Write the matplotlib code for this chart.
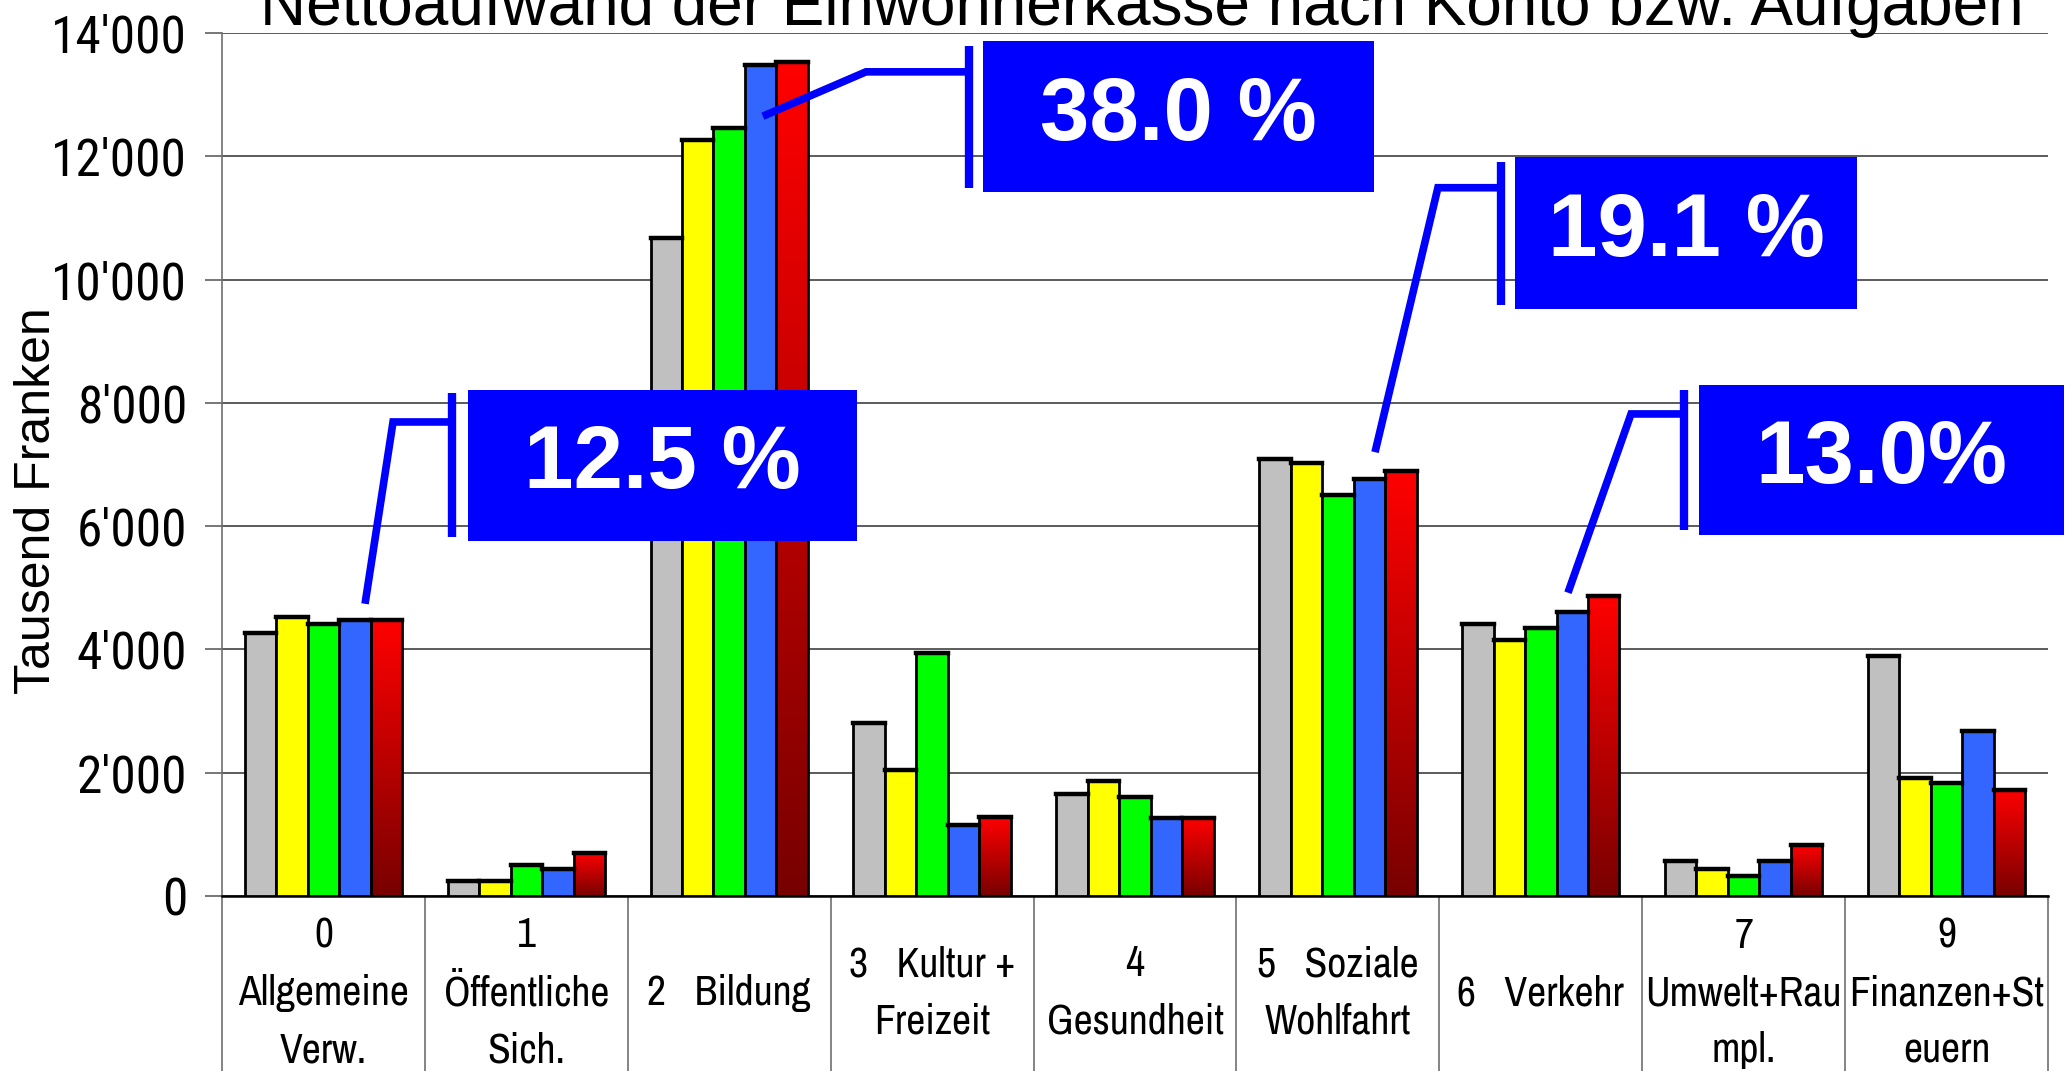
import numpy as np
import matplotlib
matplotlib.use("Agg")
import matplotlib.pyplot as plt
from matplotlib.colors import LinearSegmentedColormap
from matplotlib.patches import Rectangle
from matplotlib.ticker import FuncFormatter
import matplotlib.transforms as mtransforms

# ---- data (Tausend Franken) ----
categories = ["0\nAllgemeine\nVerw.", "1\nÖffentliche\nSich.", "2   Bildung",
              "3   Kultur +\nFreizeit", "4\nGesundheit", "5   Soziale\nWohlfahrt",
              "6   Verkehr", "7\nUmwelt+Rau\nmpl.", "9\nFinanzen+St\neuern"]
serie_1 = [4270, 250, 10670, 2810, 1660, 7090, 4410, 570, 3890]
serie_2 = [4530, 250, 12260, 2050, 1860, 7020, 4150, 440, 1910]
serie_3 = [4410, 510, 12460, 3940, 1600, 6510, 4340, 320, 1840]
serie_4 = [4470, 440, 13480, 1150, 1270, 6770, 4600, 570, 2680]
serie_5 = [4470, 700, 13530, 1280, 1270, 6900, 4860, 830, 1720]
yticks = [0, 2000, 4000, 6000, 8000, 10000, 12000, 14000]

callout_labels = ["12.5 %", "38.0 %", "19.1 %", "13.0%"]

title = "Nettoaufwand der Einwohnerkasse nach Konto bzw. Aufgaben"
ylabel = "Tausend Franken"

# ---- callout layout (data coords): box, bracket bar, leader path ----
callout_boxes = [(0.712, 2.630, 5760, 8210), (3.251, 5.178, 11420, 13870),
                 (5.873, 7.558, 9520, 11990), (6.780, 8.579, 5860, 8290)]
callout_bars = [(0.634, 5820, 8160), (3.182, 11490, 13790),
                (5.806, 9590, 11910), (6.706, 5940, 8210)]
callout_paths = [([0.634, 0.343, 0.205], [7690, 7690, 4740]),
                 ([3.182, 2.674, 2.166], [13370, 13370, 12650]),
                 ([5.806, 5.493, 5.183], [11490, 11490, 7200]),
                 ([6.706, 6.445, 6.134], [7820, 7820, 4920])]

narrow = ["Roboto Condensed", "Archivo Narrow", "Liberation Sans", "DejaVu Sans"]
narrower = ["Archivo Narrow", "PT Sans Narrow", "Roboto Condensed", "Liberation Sans"]
normal = ["Liberation Sans", "DejaVu Sans"]
BLUE = "#0000FF"

fig = plt.figure(figsize=(20.67, 10.71), dpi=100)
ax = fig.add_axes([222 / 2067, 175 / 1071, 1826 / 2067, 863 / 1071])

x = np.arange(len(categories))
w = 0.155
fills = ["#C0C0C0", "#FFFF00", "#00FF00", "#3366FF"]
series = [serie_1, serie_2, serie_3, serie_4]
all_bars = []
for j, (vals, col) in enumerate(zip(series, fills)):
    all_bars += list(ax.bar(x + (j - 2) * w, vals, w, color=col, edgecolor="black",
                            linewidth=2, zorder=3))

# red series with vertical gradient
red_cmap = LinearSegmentedColormap.from_list("rot", ["#780000", "#FF0000"])
red_bars = ax.bar(x + 2 * w, serie_5, w, facecolor="none", edgecolor="black",
                  linewidth=2, zorder=3)
all_bars += list(red_bars)
grad = np.linspace(0, 1, 256).reshape(-1, 1)
for b in red_bars:
    x0, bw, h = b.get_x(), b.get_width(), b.get_height()
    ax.imshow(grad, extent=[x0, x0 + bw, 0, h], origin="lower",
              aspect="auto", cmap=red_cmap, zorder=2.5, interpolation="bilinear")

# heavier top edge on each bar
for b in all_bars:
    x0, bw, h = b.get_x(), b.get_width(), b.get_height()
    ax.plot([x0, x0 + bw], [h, h], color="black", linewidth=3.2,
            solid_capstyle="projecting", zorder=3.5)

ax.set_xlim(-0.5, len(categories) - 0.5)
ax.set_ylim(0, 14000)
ax.set_yticks(yticks)
ax.yaxis.set_major_formatter(FuncFormatter(lambda v, p: f"{int(v):,}".replace(",", "'")))
ax.tick_params(axis="y", length=12, width=1.2, color="#606060", pad=13,
               labelsize=37)
for lab in ax.get_yticklabels():
    lab.set_fontfamily(narrow)
ax.set_xticks([])
ax.grid(axis="y", color="#404040", linewidth=1.2)
ax.set_axisbelow(True)
for s in ["top", "right"]:
    ax.spines[s].set_visible(False)
ax.spines["left"].set_color("#707070")
ax.spines["left"].set_linewidth(1.2)
ax.spines["bottom"].set_color("black")
ax.spines["bottom"].set_linewidth(1.8)

# category table below the axis
trans = mtransforms.blended_transform_factory(ax.transData, ax.transAxes)
for k in range(len(categories) + 1):
    ax.plot([k - 0.5, k - 0.5], [0, -0.25], transform=trans, color="#707070",
            linewidth=1.2, clip_on=False)
for i, lab in enumerate(categories):
    ax.text(i, -0.1125, lab, transform=trans, ha="center", va="center",
            fontsize=30, family=narrower, linespacing=1.62)

# callouts
for lab, (bx0, bx1, by0, by1), (vx, vy0, vy1), (px, py) in zip(
        callout_labels, callout_boxes, callout_bars, callout_paths):
    ax.plot(px, py, color=BLUE, linewidth=5.5, solid_capstyle="butt",
            solid_joinstyle="miter", clip_on=False, zorder=5)
    ax.plot([vx, vx], [vy0, vy1], color=BLUE, linewidth=6, solid_capstyle="butt",
            clip_on=False, zorder=5)
    ax.add_patch(Rectangle((bx0, by0), bx1 - bx0, by1 - by0, facecolor=BLUE,
                           edgecolor="none", clip_on=False, zorder=5))
    ax.text((bx0 + bx1) / 2, (by0 + by1) / 2, lab, ha="center", va="center",
            color="white", fontsize=64, fontweight="bold", family=normal,
            zorder=6, clip_on=False)

fig.text(1142 / 2067, 1 - 25 / 1071, title, ha="center", va="baseline",
         fontsize=46, family=normal)
fig.text(37 / 2067, 1 - 501 / 1071, ylabel, rotation=90, ha="center",
         va="center", fontsize=36, family=normal)

fig.savefig("out.png", dpi=100, facecolor="white")
